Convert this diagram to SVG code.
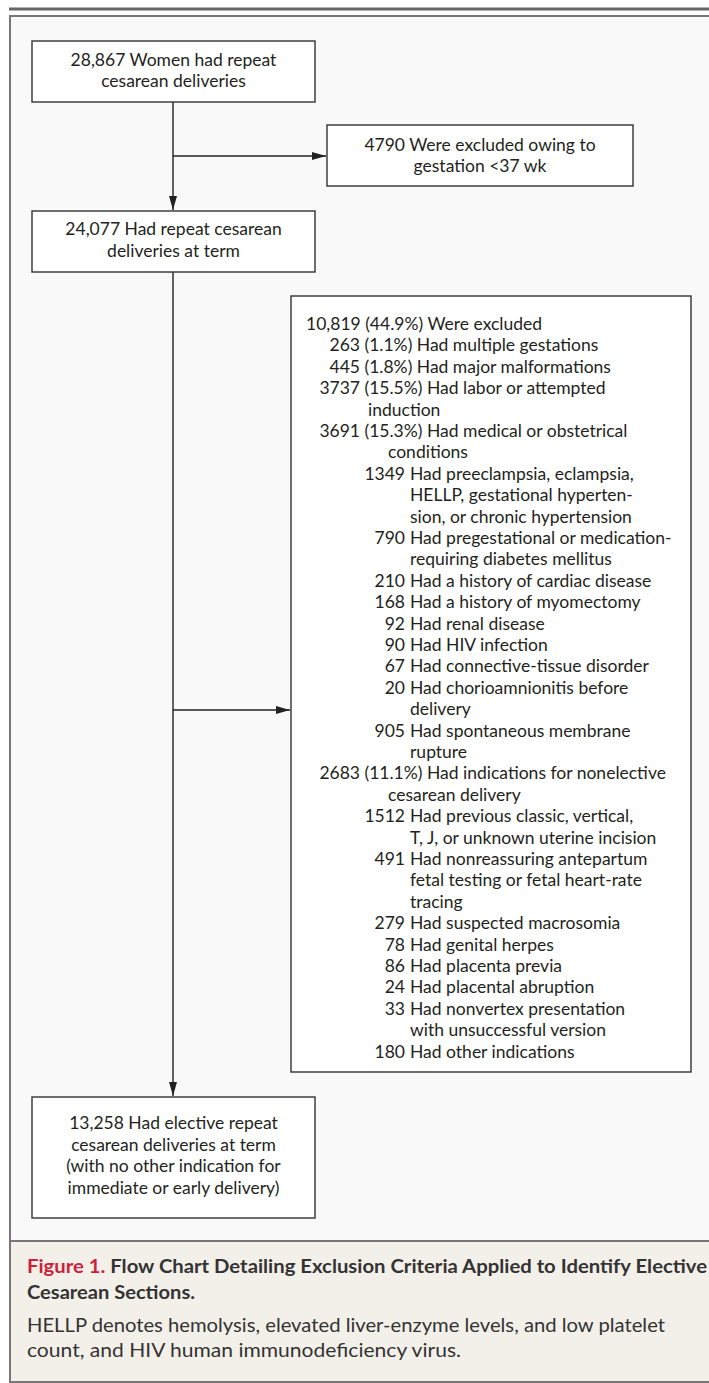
<svg xmlns="http://www.w3.org/2000/svg" width="709" height="1383" viewBox="0 0 709 1383">
<style>
.box{fill:#ffffff;stroke:#333333;stroke-width:1.4}
.t{font-family:Lato,"Liberation Sans",sans-serif;font-size:17.5px;fill:#231f20}
.c{text-anchor:middle}
.e{text-anchor:end}
.conn{fill:none;stroke:#222222;stroke-width:1.4}
.cap{font-family:Lato,"Liberation Sans",sans-serif;font-size:19px;fill:#333333}
.capb{font-family:Lato,"Liberation Sans",sans-serif;font-size:19px;font-weight:bold;fill:#333333}
</style>
<defs>
<marker id="arr" viewBox="0 0 14 8" refX="14" refY="4" markerWidth="14" markerHeight="8" markerUnits="userSpaceOnUse" orient="auto">
<path d="M0,0 L14,4 L0,8 Z" fill="#222222"/>
</marker>
</defs>
<rect x="0" y="0" width="709" height="1383" fill="#ffffff"/>
<line x1="9" y1="9" x2="709" y2="9" stroke="#666666" stroke-width="3"/>
<rect x="10" y="16" width="704" height="1366" fill="#f9f9f9" stroke="#777777" stroke-width="2"/>
<rect x="11" y="1241" width="702" height="140" fill="#f3f0ea"/>
<line x1="10" y1="1241" x2="714" y2="1241" stroke="#777777" stroke-width="2"/>

<g id="connectors">
<line class="conn" x1="173" y1="102" x2="173" y2="210" marker-end="url(#arr)"/>
<line class="conn" x1="173" y1="156" x2="326" y2="156" marker-end="url(#arr)"/>
<line class="conn" x1="173" y1="272" x2="173" y2="1096" marker-end="url(#arr)"/>
<line class="conn" x1="173" y1="710" x2="290" y2="710" marker-end="url(#arr)"/>
</g>

<g id="n1">
<rect class="box" x="32" y="41" width="283" height="61"/>
<text class="t c" x="173.5" y="66">28,867 Women had repeat</text>
<text class="t c" x="173.5" y="87">cesarean deliveries</text>
</g>

<g id="n2">
<rect class="box" x="327" y="125" width="306" height="61"/>
<text class="t c" x="480" y="150.5">4790 Were excluded owing to</text>
<text class="t c" x="480" y="171.5">gestation &lt;37 wk</text>
</g>

<g id="n3">
<rect class="box" x="32" y="211" width="283" height="61"/>
<text class="t c" x="173.5" y="235">24,077 Had repeat cesarean</text>
<text class="t c" x="173.5" y="256.5">deliveries at term</text>
</g>

<g id="n4">
<rect class="box" x="291" y="296" width="400" height="776"/>
<text class="t" x="306" y="330">10,819 (44.9%) Were excluded</text>
<text class="t" y="351.4"><tspan class="e" x="360">263</tspan><tspan x="364.5">(1.1%) Had multiple gestations</tspan></text>
<text class="t" y="372.8"><tspan class="e" x="360">445</tspan><tspan x="364.5">(1.8%) Had major malformations</tspan></text>
<text class="t" y="394.2"><tspan class="e" x="360">3737</tspan><tspan x="364.5">(15.5%) Had labor or attempted</tspan></text>
<text class="t" x="368" y="415.6">induction</text>
<text class="t" y="437"><tspan class="e" x="360">3691</tspan><tspan x="364.5">(15.3%) Had medical or obstetrical</tspan></text>
<text class="t" x="388" y="458.4">conditions</text>
<text class="t" y="479.8"><tspan class="e" x="405">1349</tspan><tspan x="410">Had preeclampsia, eclampsia,</tspan></text>
<text class="t" x="410" y="501.2">HELLP, gestational hyperten-</text>
<text class="t" x="410" y="522.6">sion, or chronic hypertension</text>
<text class="t" y="544"><tspan class="e" x="405">790</tspan><tspan x="410">Had pregestational or medication-</tspan></text>
<text class="t" x="410" y="565.4">requiring diabetes mellitus</text>
<text class="t" y="586.8"><tspan class="e" x="405">210</tspan><tspan x="410">Had a history of cardiac disease</tspan></text>
<text class="t" y="608.2"><tspan class="e" x="405">168</tspan><tspan x="410">Had a history of myomectomy</tspan></text>
<text class="t" y="629.6"><tspan class="e" x="405">92</tspan><tspan x="410">Had renal disease</tspan></text>
<text class="t" y="651"><tspan class="e" x="405">90</tspan><tspan x="410">Had HIV infection</tspan></text>
<text class="t" y="672.4"><tspan class="e" x="405">67</tspan><tspan x="410">Had connective-tissue disorder</tspan></text>
<text class="t" y="693.8"><tspan class="e" x="405">20</tspan><tspan x="410">Had chorioamnionitis before</tspan></text>
<text class="t" x="410" y="715.2">delivery</text>
<text class="t" y="736.6"><tspan class="e" x="405">905</tspan><tspan x="410">Had spontaneous membrane</tspan></text>
<text class="t" x="410" y="758">rupture</text>
<text class="t" y="779.4"><tspan class="e" x="360">2683</tspan><tspan x="364.5">(11.1%) Had indications for nonelective</tspan></text>
<text class="t" x="388" y="800.8">cesarean delivery</text>
<text class="t" y="822.2"><tspan class="e" x="405">1512</tspan><tspan x="410">Had previous classic, vertical,</tspan></text>
<text class="t" x="410" y="843.6">T, J, or unknown uterine incision</text>
<text class="t" y="865"><tspan class="e" x="405">491</tspan><tspan x="410">Had nonreassuring antepartum</tspan></text>
<text class="t" x="410" y="886.4">fetal testing or fetal heart-rate</text>
<text class="t" x="410" y="907.8">tracing</text>
<text class="t" y="929.2"><tspan class="e" x="405">279</tspan><tspan x="410">Had suspected macrosomia</tspan></text>
<text class="t" y="950.6"><tspan class="e" x="405">78</tspan><tspan x="410">Had genital herpes</tspan></text>
<text class="t" y="972"><tspan class="e" x="405">86</tspan><tspan x="410">Had placenta previa</tspan></text>
<text class="t" y="993.4"><tspan class="e" x="405">24</tspan><tspan x="410">Had placental abruption</tspan></text>
<text class="t" y="1014.8"><tspan class="e" x="405">33</tspan><tspan x="410">Had nonvertex presentation</tspan></text>
<text class="t" x="410" y="1036.2">with unsuccessful version</text>
<text class="t" y="1057.6"><tspan class="e" x="405">180</tspan><tspan x="410">Had other indications</tspan></text>
</g>

<g id="n5">
<rect class="box" x="32" y="1097" width="283" height="121"/>
<text class="t c" x="173.5" y="1129">13,258 Had elective repeat</text>
<text class="t c" x="173.5" y="1150.5">cesarean deliveries at term</text>
<text class="t c" x="173.5" y="1172">(with no other indication for</text>
<text class="t c" x="173.5" y="1193.5">immediate or early delivery)</text>
</g>

<g id="caption">
<text class="capb" x="27" y="1273" textLength="680" lengthAdjust="spacingAndGlyphs"><tspan fill="#cf1f3a">Figure 1.</tspan> Flow Chart Detailing Exclusion Criteria Applied to Identify Elective</text>
<text class="capb" x="27" y="1299" textLength="168" lengthAdjust="spacingAndGlyphs">Cesarean Sections.</text>
<text class="cap" x="27" y="1332" textLength="638" lengthAdjust="spacingAndGlyphs">HELLP denotes hemolysis, elevated liver-enzyme levels, and low platelet</text>
<text class="cap" x="27" y="1357" textLength="434" lengthAdjust="spacingAndGlyphs">count, and HIV human immunodeficiency virus.</text>
</g>
</svg>
